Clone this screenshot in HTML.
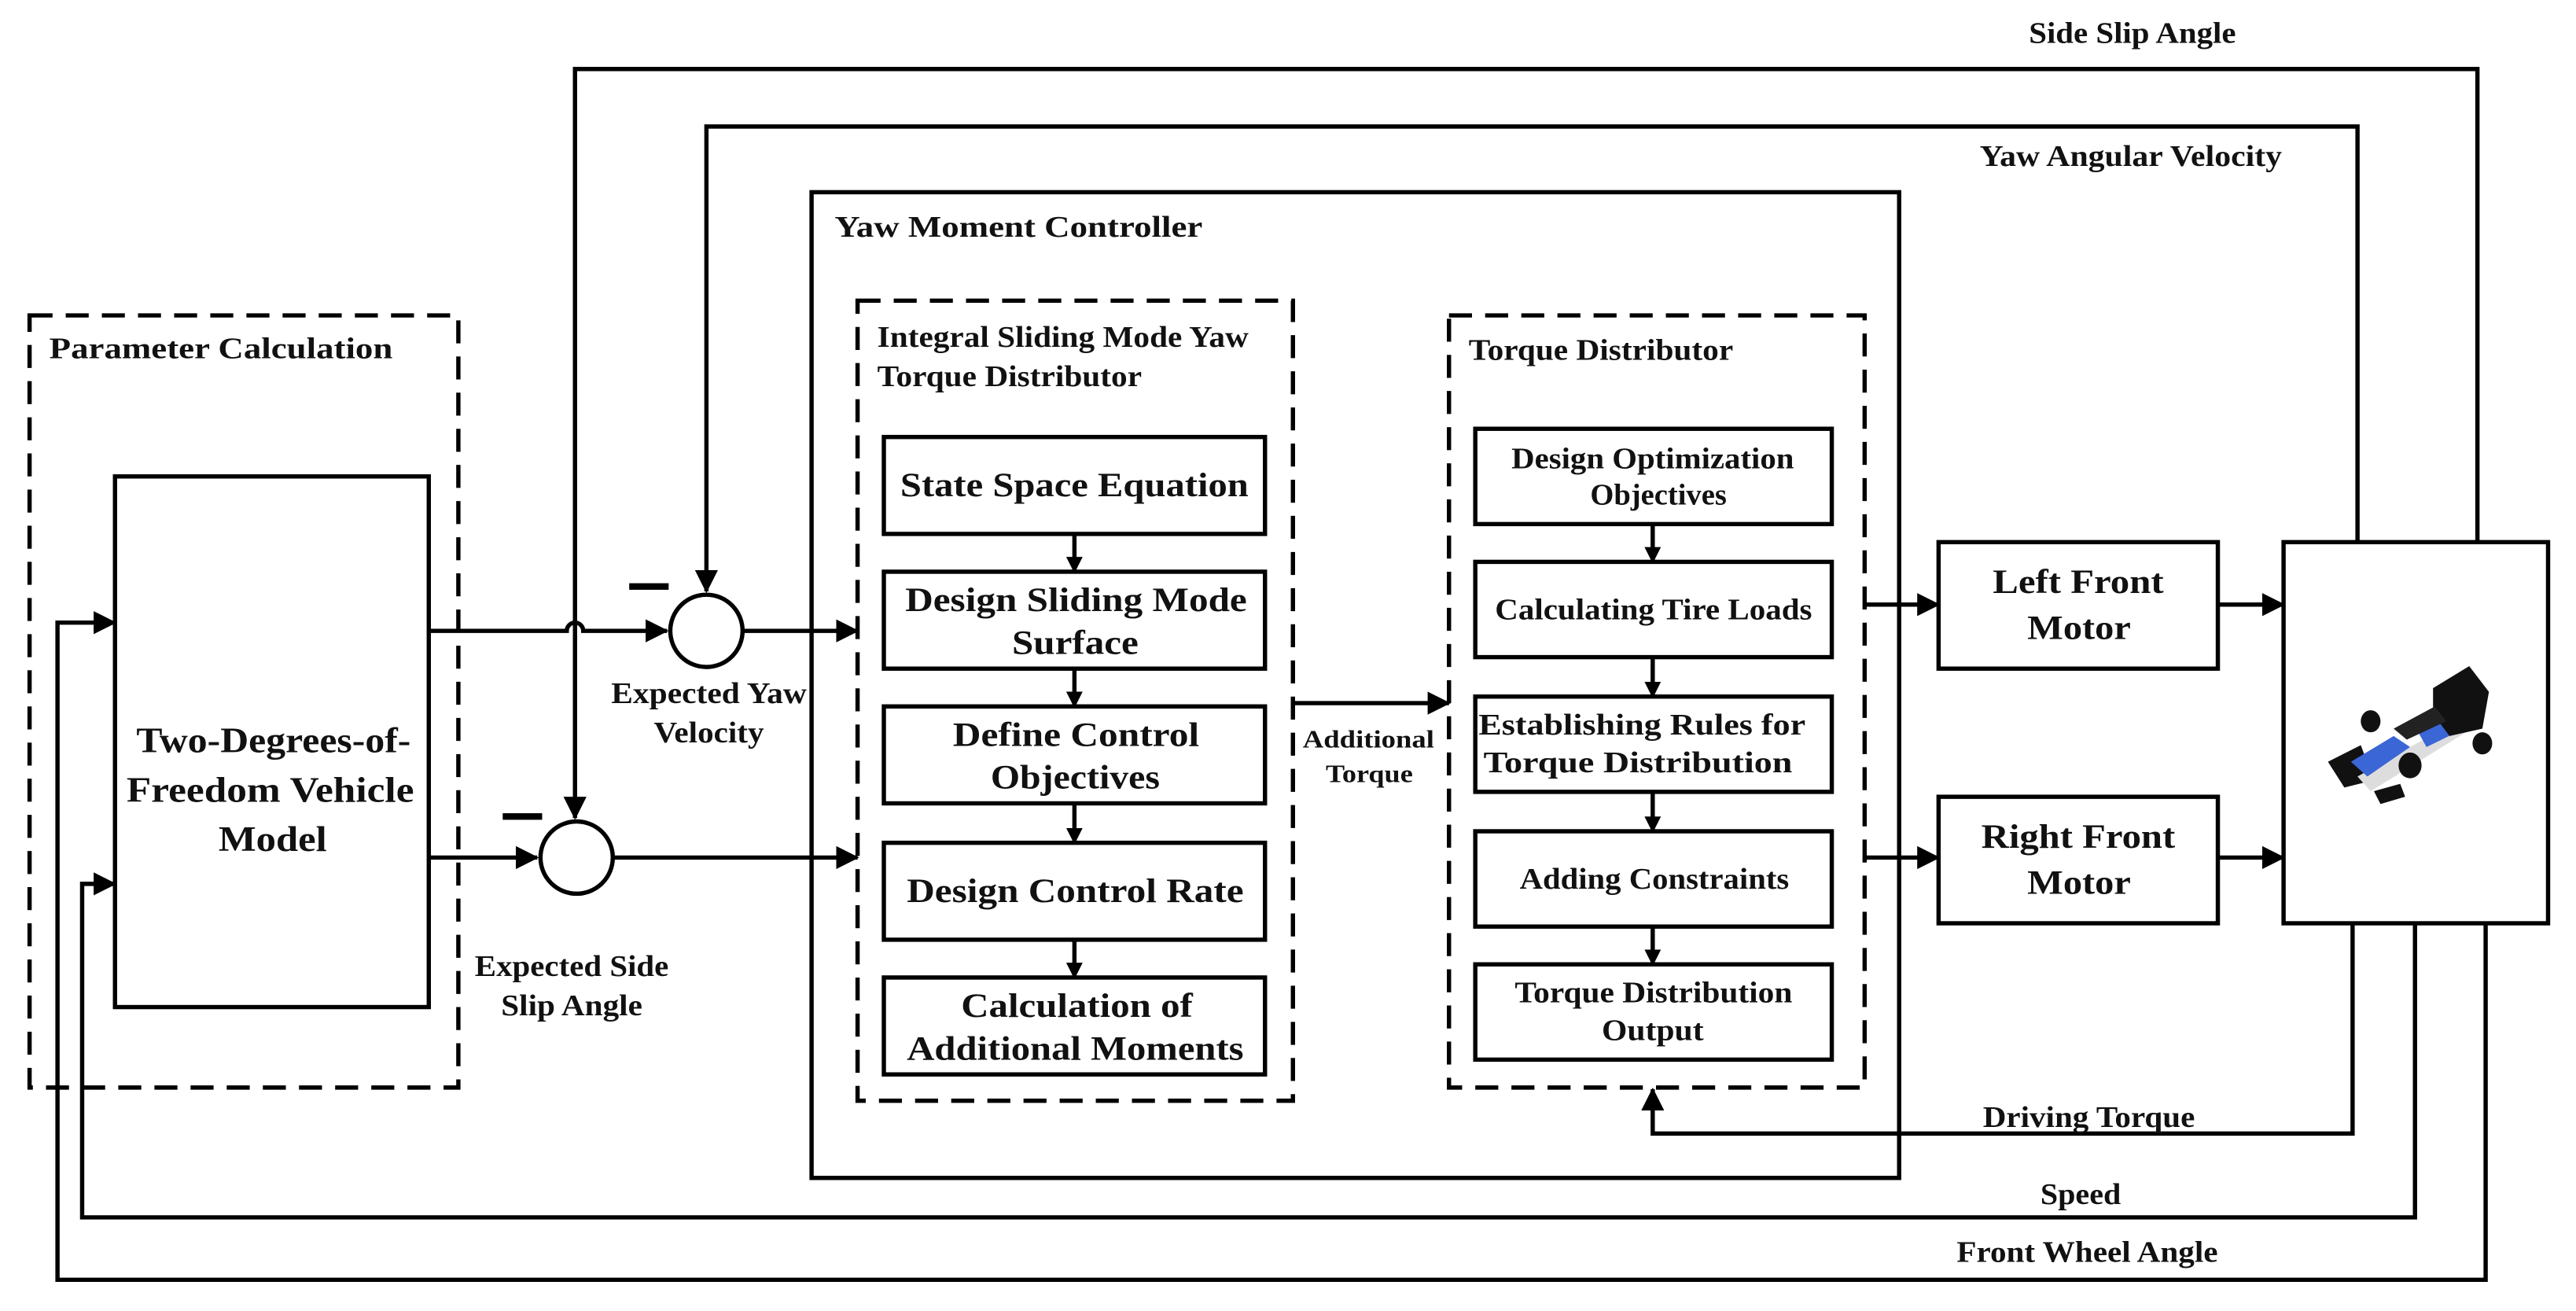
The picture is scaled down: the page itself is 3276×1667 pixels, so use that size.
<!DOCTYPE html>
<html><head><meta charset="utf-8"><style>
html,body{margin:0;padding:0;background:#fff;}
svg{display:block}
text{font-family:"Liberation Serif",serif;font-weight:bold;fill:#111}
</style></head><body>
<svg width="3276" height="1667" viewBox="0 0 1568 798" preserveAspectRatio="none" xmlns="http://www.w3.org/2000/svg">
<defs>
<marker id="a" markerWidth="10" markerHeight="10" refX="9" refY="5" orient="auto" markerUnits="userSpaceOnUse"><path d="M0,0 L10,5 L0,10 z" fill="#000"/></marker>
<marker id="b" markerWidth="14" markerHeight="14" refX="13" refY="7" orient="auto" markerUnits="userSpaceOnUse"><path d="M0,0 L14,7 L0,14 z" fill="#000"/></marker>
</defs>
<g fill="none" stroke="#000" stroke-width="2.6">
<rect x="18" y="192" width="261" height="470" stroke-dasharray="14,8"/>
<rect x="522" y="183" width="265" height="487" stroke-dasharray="14,8"/>
<rect x="882" y="192" width="253" height="470" stroke-dasharray="14,8"/>
<rect x="70" y="290" width="191" height="323"/>
<rect x="494" y="117" width="662" height="600"/>
<rect x="538" y="266" width="232" height="59"/>
<rect x="538" y="348" width="232" height="59"/>
<rect x="538" y="430" width="232" height="59"/>
<rect x="538" y="513" width="232" height="59"/>
<rect x="538" y="595" width="232" height="59"/>
<rect x="898" y="261" width="217" height="58"/>
<rect x="898" y="342" width="217" height="58"/>
<rect x="898" y="424" width="217" height="58"/>
<rect x="898" y="506" width="217" height="58"/>
<rect x="898" y="587" width="217" height="58"/>
<rect x="1180" y="330" width="170" height="77"/>
<rect x="1180" y="485" width="170" height="77"/>
<rect x="1390" y="330" width="161" height="232"/>
<circle cx="430" cy="384" r="22"/>
<circle cx="351" cy="522" r="22"/>
<path d="M261,384 H345 a5,5 0 0 1 10,0 H406" marker-end="url(#b)"/>
<path d="M261,522 H327" marker-end="url(#b)"/>
<path d="M1508,330 V42 H350 V498" marker-end="url(#b)"/>
<path d="M1435,330 V77 H430 V360" marker-end="url(#b)"/>
<path d="M452,384 H522" marker-end="url(#b)"/>
<path d="M373,522 H522" marker-end="url(#b)"/>
<path d="M654,325 V348" marker-end="url(#a)"/>
<path d="M654,407 V430" marker-end="url(#a)"/>
<path d="M654,489 V513" marker-end="url(#a)"/>
<path d="M654,572 V595" marker-end="url(#a)"/>
<path d="M1006,319 V342" marker-end="url(#a)"/>
<path d="M1006,400 V424" marker-end="url(#a)"/>
<path d="M1006,482 V506" marker-end="url(#a)"/>
<path d="M1006,564 V587" marker-end="url(#a)"/>
<path d="M787,428 H882" marker-end="url(#b)"/>
<path d="M1135,368 H1180" marker-end="url(#b)"/>
<path d="M1135,522 H1180" marker-end="url(#b)"/>
<path d="M1350,368 H1390" marker-end="url(#b)"/>
<path d="M1350,522 H1390" marker-end="url(#b)"/>
<path d="M1432,562 V690 H1006 V663" marker-end="url(#b)"/>
<path d="M1470,562 V741 H50 V538 H70" marker-end="url(#b)"/>
<path d="M1513,562 V779 H35 V379 H70" marker-end="url(#b)"/>
</g>
<rect x="383" y="355" width="24" height="4" fill="#000"/>
<rect x="306" y="495" width="24" height="4" fill="#000"/>
<!-- car -->
<g transform="translate(1467,448) scale(1,1.12)">
<path d="M-50,14 L-30,5 L-22,24 L-40,28 z" fill="#111"/>
<path d="M-32,22 L28,-8 L34,-2 L-24,30 z" fill="#ddd"/>
<path d="M-36,14 L-10,0 L0,6 L-26,22 z" fill="#3b66d6"/>
<path d="M5,-2 L28,-12 L33,-4 L10,6 z" fill="#3b66d6"/>
<path d="M14,-26 L36,-38 L48,-24 L44,-4 L24,0 L14,-12 z" fill="#111"/>
<path d="M-10,-4 L15,-16 L22,-8 L-2,2 z" fill="#222"/>
<circle cx="-24" cy="-8" r="6" fill="#111"/>
<circle cx="0" cy="16" r="7" fill="#111"/>
<circle cx="44" cy="4" r="6" fill="#111"/>
<path d="M-22,30 L-6,26 L-3,33 L-18,37 z" fill="#111"/>
</g>
<g font-size="18">
<text x="30" y="218" textLength="209" lengthAdjust="spacingAndGlyphs">Parameter Calculation</text>
<text x="508" y="144" textLength="224" lengthAdjust="spacingAndGlyphs">Yaw Moment Controller</text>
<text x="894" y="219" textLength="161" lengthAdjust="spacingAndGlyphs">Torque Distributor</text>
<text x="534" y="211" textLength="226" lengthAdjust="spacingAndGlyphs">Integral Sliding Mode Yaw</text>
<text x="534" y="235" textLength="161" lengthAdjust="spacingAndGlyphs">Torque Distributor</text>
<text x="1235" y="26" textLength="126" lengthAdjust="spacingAndGlyphs">Side Slip Angle</text>
<text x="1205" y="101" textLength="184" lengthAdjust="spacingAndGlyphs">Yaw Angular Velocity</text>
<text x="1207" y="686" textLength="129" lengthAdjust="spacingAndGlyphs">Driving Torque</text>
<text x="1242" y="733" textLength="49" lengthAdjust="spacingAndGlyphs">Speed</text>
<text x="1191" y="768" textLength="159" lengthAdjust="spacingAndGlyphs">Front Wheel Angle</text>
<text x="372" y="428" textLength="119" lengthAdjust="spacingAndGlyphs">Expected Yaw</text>
<text x="398" y="452" textLength="67" lengthAdjust="spacingAndGlyphs">Velocity</text>
<text x="289" y="594" textLength="118" lengthAdjust="spacingAndGlyphs">Expected Side</text>
<text x="305" y="618" textLength="86" lengthAdjust="spacingAndGlyphs">Slip Angle</text>
</g>
<g font-size="15">
<text x="793" y="455" textLength="80" lengthAdjust="spacingAndGlyphs">Additional</text>
<text x="807" y="476" textLength="53" lengthAdjust="spacingAndGlyphs">Torque</text>
</g>
<g font-size="22">
<text x="83" y="458" textLength="167" lengthAdjust="spacingAndGlyphs">Two-Degrees-of-</text>
<text x="77" y="488" textLength="175" lengthAdjust="spacingAndGlyphs">Freedom Vehicle</text>
<text x="133" y="518" textLength="66" lengthAdjust="spacingAndGlyphs">Model</text>
</g>
<g font-size="21">
<text x="548" y="302" textLength="212" lengthAdjust="spacingAndGlyphs">State Space Equation</text>
<text x="551" y="372" textLength="208" lengthAdjust="spacingAndGlyphs">Design Sliding Mode</text>
<text x="616" y="398" textLength="77" lengthAdjust="spacingAndGlyphs">Surface</text>
<text x="580" y="454" textLength="150" lengthAdjust="spacingAndGlyphs">Define Control</text>
<text x="603" y="480" textLength="103" lengthAdjust="spacingAndGlyphs">Objectives</text>
<text x="552" y="549" textLength="205" lengthAdjust="spacingAndGlyphs">Design Control Rate</text>
<text x="585" y="619" textLength="141" lengthAdjust="spacingAndGlyphs">Calculation of</text>
<text x="552" y="645" textLength="205" lengthAdjust="spacingAndGlyphs">Additional Moments</text>
<text x="1213" y="361" textLength="104" lengthAdjust="spacingAndGlyphs">Left Front</text>
<text x="1234" y="389" textLength="63" lengthAdjust="spacingAndGlyphs">Motor</text>
<text x="1206" y="516" textLength="118" lengthAdjust="spacingAndGlyphs">Right Front</text>
<text x="1234" y="544" textLength="63" lengthAdjust="spacingAndGlyphs">Motor</text>
</g>
<g font-size="18">
<text x="920" y="285" textLength="172" lengthAdjust="spacingAndGlyphs">Design Optimization</text>
<text x="968" y="307" textLength="83" lengthAdjust="spacingAndGlyphs">Objectives</text>
<text x="910" y="377" textLength="193" lengthAdjust="spacingAndGlyphs">Calculating Tire Loads</text>
<text x="900" y="447" textLength="199" lengthAdjust="spacingAndGlyphs">Establishing Rules for</text>
<text x="903" y="470" textLength="188" lengthAdjust="spacingAndGlyphs">Torque Distribution</text>
<text x="925" y="541" textLength="164" lengthAdjust="spacingAndGlyphs">Adding Constraints</text>
<text x="922" y="610" textLength="169" lengthAdjust="spacingAndGlyphs">Torque Distribution</text>
<text x="975" y="633" textLength="62" lengthAdjust="spacingAndGlyphs">Output</text>
</g>
</svg>
</body></html>
